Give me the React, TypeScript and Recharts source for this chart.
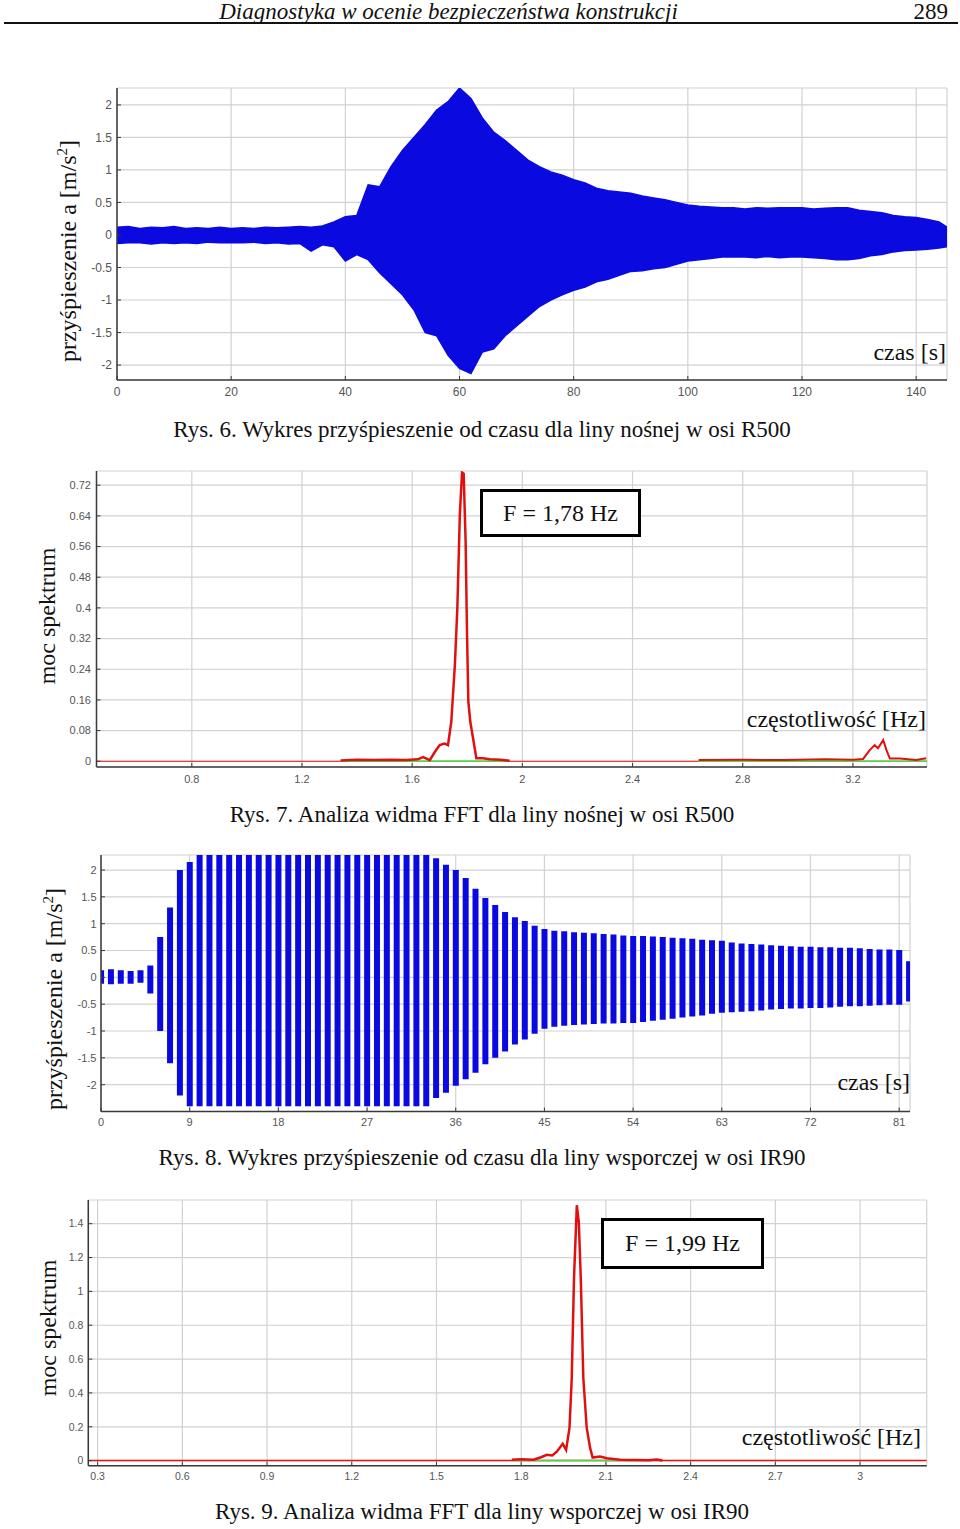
import React from 'react';
import { ComposedChart, Area, Bar, Line, XAxis, YAxis, CartesianGrid } from 'recharts';

const SERIF = '"Liberation Serif", "Times New Roman", serif';
const SANS = '"Liberation Sans", Arial, sans-serif';
const BLUE = '#0a0ae0';
const RED = '#e01010';
const GREEN = '#40e040';
const GRID = '#d2d2d2';
const AXIS = '#3a3a3a';

// Rys. 6 - acceleration envelope, liny nośnej R500
const r500Time = [
  0, 2, 4, 6, 8, 10, 12, 14, 16, 18, 20, 22, 24, 26, 28, 30, 32, 34, 36, 38, 40, 42, 44, 46, 48,
  50, 52, 54, 56, 58, 60, 62, 64, 66, 68, 70, 72, 74, 76, 78, 80, 82, 84, 86, 88, 90, 92, 94, 96,
  98, 100, 102, 104, 106, 108, 110, 112, 114, 116, 118, 120, 122, 124, 126, 128, 130, 132, 134,
  136, 138, 140, 142, 144, 145.4,
];
const r500Upper = [
  0.12, 0.13, 0.1, 0.12, 0.11, 0.13, 0.1, 0.11, 0.1, 0.12, 0.1, 0.11, 0.1, 0.12, 0.11, 0.12, 0.13,
  0.12, 0.14, 0.2, 0.28, 0.3, 0.77, 0.74, 1.05, 1.3, 1.5, 1.7, 1.92, 2.05, 2.26, 2.1, 1.8, 1.58,
  1.45, 1.3, 1.15, 1.05, 0.97, 0.92, 0.85, 0.8, 0.72, 0.68, 0.66, 0.64, 0.6, 0.57, 0.54, 0.5, 0.46,
  0.44, 0.43, 0.42, 0.42, 0.4, 0.42, 0.41, 0.42, 0.42, 0.42, 0.4, 0.41, 0.42, 0.42, 0.38, 0.36,
  0.34, 0.3, 0.28, 0.27, 0.24, 0.2, 0.12,
];
const r500Lower = [
  -0.13, -0.12, -0.12, -0.14, -0.12, -0.13, -0.12, -0.13, -0.11, -0.12, -0.12, -0.12, -0.11, -0.13,
  -0.12, -0.14, -0.13, -0.25, -0.15, -0.18, -0.4, -0.3, -0.38, -0.58, -0.75, -0.92, -1.15, -1.5,
  -1.55, -1.85, -2.05, -2.13, -1.8, -1.75, -1.55, -1.4, -1.25, -1.1, -1.0, -0.92, -0.85, -0.8,
  -0.72, -0.68, -0.62, -0.56, -0.55, -0.52, -0.5, -0.45, -0.4, -0.38, -0.36, -0.34, -0.34, -0.34,
  -0.35, -0.33, -0.35, -0.34, -0.34, -0.35, -0.36, -0.38, -0.38, -0.36, -0.32, -0.3, -0.26, -0.24,
  -0.23, -0.22, -0.2, -0.18,
];
const r500TimeTicks = [0, 20, 40, 60, 80, 100, 120, 140];
const accTicks = [-2, -1.5, -1, -0.5, 0, 0.5, 1, 1.5, 2];

// Rys. 7 - FFT R500
const r500FftPeakFreq = [
  1.34, 1.4, 1.46, 1.52, 1.58, 1.62, 1.64, 1.664, 1.682, 1.7, 1.718, 1.73, 1.742, 1.755, 1.764,
  1.773, 1.781, 1.787, 1.794, 1.799, 1.804, 1.811, 1.821, 1.833, 1.857, 1.882, 1.92, 1.954,
];
const r500FftPeakVal = [
  0.002, 0.004, 0.003, 0.004, 0.003, 0.005, 0.011, 0.003, 0.024, 0.042, 0.046, 0.042, 0.103, 0.251,
  0.4, 0.643, 0.753, 0.75, 0.573, 0.338, 0.155, 0.103, 0.06, 0.008, 0.008, 0.005, 0.004, 0.001,
];
const r500FftTailFreq = [
  2.64, 2.8, 2.95, 3.1, 3.2, 3.237, 3.261, 3.279, 3.291, 3.31, 3.322, 3.334, 3.37, 3.43, 3.466,
];
const r500FftTailVal = [
  0.003, 0.004, 0.003, 0.005, 0.004, 0.006, 0.029, 0.042, 0.034, 0.055, 0.029, 0.007, 0.007, 0.003,
  0.008,
];
const r500FreqTicks = [0.8, 1.2, 1.6, 2, 2.4, 2.8, 3.2];
const r500PowerTicks = [0, 0.08, 0.16, 0.24, 0.32, 0.4, 0.48, 0.56, 0.64, 0.72];

// Rys. 8 - acceleration, liny wsporczej IR90 (1 s steps)
const ir90Upper = [
  0.13, 0.15, 0.13, 0.12, 0.13, 0.22, 0.75, 1.3, 2.0, 2.15, 2.28, 2.28, 2.28, 2.28, 2.28, 2.28,
  2.28, 2.28, 2.28, 2.28, 2.28, 2.28, 2.28, 2.28, 2.28, 2.28, 2.28, 2.28, 2.28, 2.28, 2.28, 2.28,
  2.28, 2.28, 2.22, 2.1, 2.0, 1.85, 1.65, 1.48, 1.35, 1.22, 1.12, 1.05, 0.96, 0.9, 0.87, 0.86,
  0.84, 0.83, 0.82, 0.81, 0.8, 0.78, 0.77, 0.77, 0.76, 0.75, 0.74, 0.73, 0.72, 0.7, 0.69, 0.68,
  0.65, 0.63, 0.62, 0.61, 0.6, 0.59, 0.58, 0.57, 0.57, 0.56, 0.56, 0.55, 0.55, 0.54, 0.53, 0.52,
  0.52, 0.51, 0.3,
];
const ir90Lower = [
  -0.12, -0.13, -0.12, -0.12, -0.1, -0.3, -1.0, -1.6, -2.2, -2.4, -2.4, -2.4, -2.4, -2.4, -2.4,
  -2.4, -2.4, -2.4, -2.4, -2.4, -2.4, -2.4, -2.4, -2.4, -2.4, -2.4, -2.4, -2.4, -2.4, -2.4, -2.4,
  -2.4, -2.4, -2.4, -2.25, -2.15, -2.02, -1.9, -1.78, -1.62, -1.5, -1.38, -1.25, -1.16, -1.05,
  -0.96, -0.92, -0.9, -0.89, -0.88, -0.87, -0.86, -0.86, -0.85, -0.85, -0.83, -0.81, -0.79, -0.77,
  -0.75, -0.73, -0.71, -0.68, -0.66, -0.65, -0.64, -0.63, -0.62, -0.6, -0.59, -0.58, -0.58, -0.57,
  -0.57, -0.56, -0.55, -0.54, -0.54, -0.53, -0.52, -0.51, -0.51, -0.45,
];
const ir90TimeTicks = [0, 9, 18, 27, 36, 45, 54, 63, 72, 81];

// Rys. 9 - FFT IR90
const ir90FftFreq = [
  1.767, 1.8, 1.844, 1.87, 1.891, 1.91, 1.926, 1.947, 1.959, 1.971, 1.979, 1.987, 1.997, 2.004,
  2.011, 2.02, 2.032, 2.044, 2.053, 2.079, 2.103, 2.15, 2.209, 2.25, 2.28, 2.3,
];
const ir90FftVal = [
  0.005, 0.008, 0.005, 0.02, 0.034, 0.03, 0.053, 0.1, 0.063, 0.193, 0.488, 1.078, 1.509, 1.41,
  1.078, 0.488, 0.193, 0.075, 0.018, 0.024, 0.014, 0.005, 0.003, 0.002, 0.006, 0.001,
];
const ir90FreqTicks = [0.3, 0.6, 0.9, 1.2, 1.5, 1.8, 2.1, 2.4, 2.7, 3];
const ir90PowerTicks = [0, 0.2, 0.4, 0.6, 0.8, 1, 1.2, 1.4];

const r500Rows = r500Time.map((t, i) => ({ t, r: [r500Lower[i], r500Upper[i]] }));
const ir90Rows = ir90Upper.map((hi, i) => ({ t: i, r: [ir90Lower[i], hi] }));
const pairs = (fs: number[], vs: number[]) => fs.map((f, i) => ({ f, v: vs[i] }));

const tickStyle = (size: number) => ({ fontSize: size, fill: '#555', fontFamily: SANS });

function Txt({ left, top, width, align = 'left', size = 24, italic = false, children }: any) {
  return (
    <div
      style={{
        position: 'absolute',
        left,
        top,
        width,
        textAlign: align,
        fontSize: size,
        lineHeight: `${size}px`,
        fontStyle: italic ? 'italic' : 'normal',
        whiteSpace: 'nowrap',
        color: '#111',
      }}
    >
      {children}
    </div>
  );
}

function VLabel({ cx, cy, children }: any) {
  return (
    <div
      style={{
        position: 'absolute',
        left: cx,
        top: cy,
        transform: 'translate(-50%, -50%) rotate(-90deg)',
        fontSize: 24,
        lineHeight: '24px',
        whiteSpace: 'nowrap',
        color: '#111',
      }}
    >
      {children}
    </div>
  );
}

function Box({ left, top, width, height, children }: any) {
  return (
    <div
      style={{
        position: 'absolute',
        left,
        top,
        width,
        height,
        boxSizing: 'border-box',
        border: '3px solid #000',
        background: '#fff',
        display: 'flex',
        alignItems: 'center',
        justifyContent: 'center',
        fontSize: 24,
        color: '#111',
      }}
    >
      {children}
    </div>
  );
}

const axisLine = { stroke: AXIS, strokeWidth: 1.5 };
const tickLine = { stroke: AXIS, strokeWidth: 1 };

export default function App() {
  return (
    <div
      style={{
        position: 'absolute',
        left: 0,
        top: 0,
        width: 960,
        height: 1529,
        background: '#fff',
        fontFamily: SERIF,
        overflow: 'hidden',
      }}
    >
      {/* page header */}
      <Txt left={0} top={0} width={897} align="center" size={23} italic>
        Diagnostyka w ocenie bezpieczeństwa konstrukcji
      </Txt>
      <Txt left={880} top={0} width={68} align="right" size={23}>
        289
      </Txt>
      <div style={{ position: 'absolute', left: 4, top: 22, width: 954, height: 2, background: '#111' }} />

      {/* Rys. 6 */}
      <div style={{ position: 'absolute', left: 0, top: 70 }}>
        <ComposedChart width={960} height={340} data={r500Rows} margin={{ top: 18, right: 13, left: 77, bottom: 0 }}>
          <CartesianGrid stroke={GRID} strokeWidth={1.2} />
          <XAxis
            type="number"
            dataKey="t"
            domain={[0, 145.4]}
            ticks={r500TimeTicks}
            allowDataOverflow
            height={30}
            tick={tickStyle(12)}
            tickSize={-4}
            tickMargin={11}
            axisLine={axisLine}
            tickLine={tickLine}
          />
          <YAxis
            type="number"
            domain={[-2.23, 2.26]}
            ticks={accTicks}
            allowDataOverflow
            width={40}
            tick={tickStyle(12)}
            tickSize={-4}
            tickMargin={9}
            axisLine={axisLine}
            tickLine={tickLine}
          />
          <Area
            type="linear"
            dataKey="r"
            stroke={BLUE}
            strokeWidth={1.5}
            fill={BLUE}
            fillOpacity={1}
            dot={false}
            activeDot={false}
            isAnimationActive={false}
          />
        </ComposedChart>
      </div>
      <VLabel cx={68} cy={251}>
        przyśpieszenie a [m/s<sup style={{ fontSize: 15, lineHeight: 0 }}>2</sup>]
      </VLabel>
      <Txt left={800} top={340} width={146} align="right">
        czas [s]
      </Txt>
      <Txt left={0} top={417.7} width={964} align="center" size={23}>
        Rys. 6. Wykres przyśpieszenie od czasu dla liny nośnej w osi R500
      </Txt>

      {/* Rys. 7 */}
      <div style={{ position: 'absolute', left: 0, top: 455 }}>
        <ComposedChart width={960} height={345} margin={{ top: 16, right: 33, left: 56.5, bottom: 3 }}>
          <CartesianGrid stroke={GRID} strokeWidth={1.2} />
          <XAxis
            type="number"
            dataKey="f"
            domain={[0.454, 3.469]}
            ticks={r500FreqTicks}
            allowDataOverflow
            height={30}
            tick={tickStyle(11)}
            tickSize={-4}
            tickMargin={12}
            axisLine={axisLine}
            tickLine={tickLine}
          />
          <YAxis
            type="number"
            domain={[-0.015, 0.757]}
            ticks={r500PowerTicks}
            allowDataOverflow
            width={40}
            tick={tickStyle(11)}
            tickSize={-4}
            tickMargin={9.5}
            axisLine={axisLine}
            tickLine={tickLine}
          />
          <Line data={pairs([0.454, 3.469], [0, 0])} dataKey="v" stroke={RED} strokeWidth={1.2} dot={false} isAnimationActive={false} />
          <Line data={pairs([1.34, 1.954], [0, 0])} dataKey="v" stroke={GREEN} strokeWidth={1.5} dot={false} isAnimationActive={false} />
          <Line data={pairs([2.64, 3.469], [0, 0])} dataKey="v" stroke={GREEN} strokeWidth={1.5} dot={false} isAnimationActive={false} />
          <Line data={pairs(r500FftPeakFreq, r500FftPeakVal)} dataKey="v" stroke={RED} strokeWidth={2.5} dot={false} isAnimationActive={false} />
          <Line data={pairs(r500FftTailFreq, r500FftTailVal)} dataKey="v" stroke={RED} strokeWidth={2} dot={false} isAnimationActive={false} />
        </ComposedChart>
      </div>
      <VLabel cx={47} cy={616}>moc spektrum</VLabel>
      <Box left={480} top={489} width={161} height={48}>
        F = 1,78 Hz
      </Box>
      <Txt left={700} top={706.6} width={226} align="right">
        częstotliwość [Hz]
      </Txt>
      <Txt left={0} top={802.7} width={964} align="center" size={23}>
        Rys. 7. Analiza widma FFT dla liny nośnej w osi R500
      </Txt>

      {/* Rys. 8 */}
      <div style={{ position: 'absolute', left: 0, top: 840 }}>
        <ComposedChart width={960} height={310} data={ir90Rows} margin={{ top: 15, right: 50, left: 61, bottom: 8.5 }}>
          <CartesianGrid stroke={GRID} strokeWidth={1.2} />
          <XAxis
            type="number"
            dataKey="t"
            domain={[0, 82.1]}
            ticks={ir90TimeTicks}
            allowDataOverflow
            height={30}
            tick={tickStyle(11)}
            tickSize={-4}
            tickMargin={10.5}
            axisLine={axisLine}
            tickLine={tickLine}
          />
          <YAxis
            type="number"
            domain={[-2.5, 2.28]}
            ticks={accTicks}
            allowDataOverflow
            width={40}
            tick={tickStyle(11)}
            tickSize={-4}
            tickMargin={8.5}
            axisLine={axisLine}
            tickLine={tickLine}
          />
          <Bar dataKey="r" fill={BLUE} barSize={6} isAnimationActive={false} />
        </ComposedChart>
      </div>
      <VLabel cx={54} cy={999}>
        przyśpieszenie a [m/s<sup style={{ fontSize: 15, lineHeight: 0 }}>2</sup>]
      </VLabel>
      <Txt left={760} top={1070} width={150} align="right">
        czas [s]
      </Txt>
      <Txt left={0} top={1145.7} width={964} align="center" size={23}>
        Rys. 8. Wykres przyśpieszenie od czasu dla liny wsporczej w osi IR90
      </Txt>

      {/* Rys. 9 */}
      <div style={{ position: 'absolute', left: 0, top: 1185 }}>
        <ComposedChart width={960} height={315} margin={{ top: 15, right: 33.3, left: 48.3, bottom: 4.3 }}>
          <CartesianGrid stroke={GRID} strokeWidth={1.2} />
          <XAxis
            type="number"
            dataKey="f"
            domain={[0.267, 3.236]}
            ticks={ir90FreqTicks}
            allowDataOverflow
            height={30}
            tick={tickStyle(10.5)}
            tickSize={-4}
            tickMargin={11}
            axisLine={axisLine}
            tickLine={tickLine}
          />
          <YAxis
            type="number"
            domain={[-0.03, 1.54]}
            ticks={ir90PowerTicks}
            allowDataOverflow
            width={40}
            tick={tickStyle(10.5)}
            tickSize={-4}
            tickMargin={9}
            axisLine={axisLine}
            tickLine={tickLine}
          />
          <Line data={pairs([0.267, 3.236], [0, 0])} dataKey="v" stroke={RED} strokeWidth={1.5} dot={false} isAnimationActive={false} />
          <Line data={pairs([1.767, 2.209], [0, 0])} dataKey="v" stroke={GREEN} strokeWidth={1.5} dot={false} isAnimationActive={false} />
          <Line data={pairs(ir90FftFreq, ir90FftVal)} dataKey="v" stroke={RED} strokeWidth={2.5} dot={false} isAnimationActive={false} />
        </ComposedChart>
      </div>
      <VLabel cx={47.5} cy={1328}>moc spektrum</VLabel>
      <Box left={601} top={1218} width={163} height={51}>
        F = 1,99 Hz
      </Box>
      <Txt left={690} top={1425} width={231} align="right">
        częstotliwość [Hz]
      </Txt>
      <Txt left={0} top={1499.7} width={964} align="center" size={23}>
        Rys. 9. Analiza widma FFT dla liny wsporczej w osi IR90
      </Txt>
    </div>
  );
}
